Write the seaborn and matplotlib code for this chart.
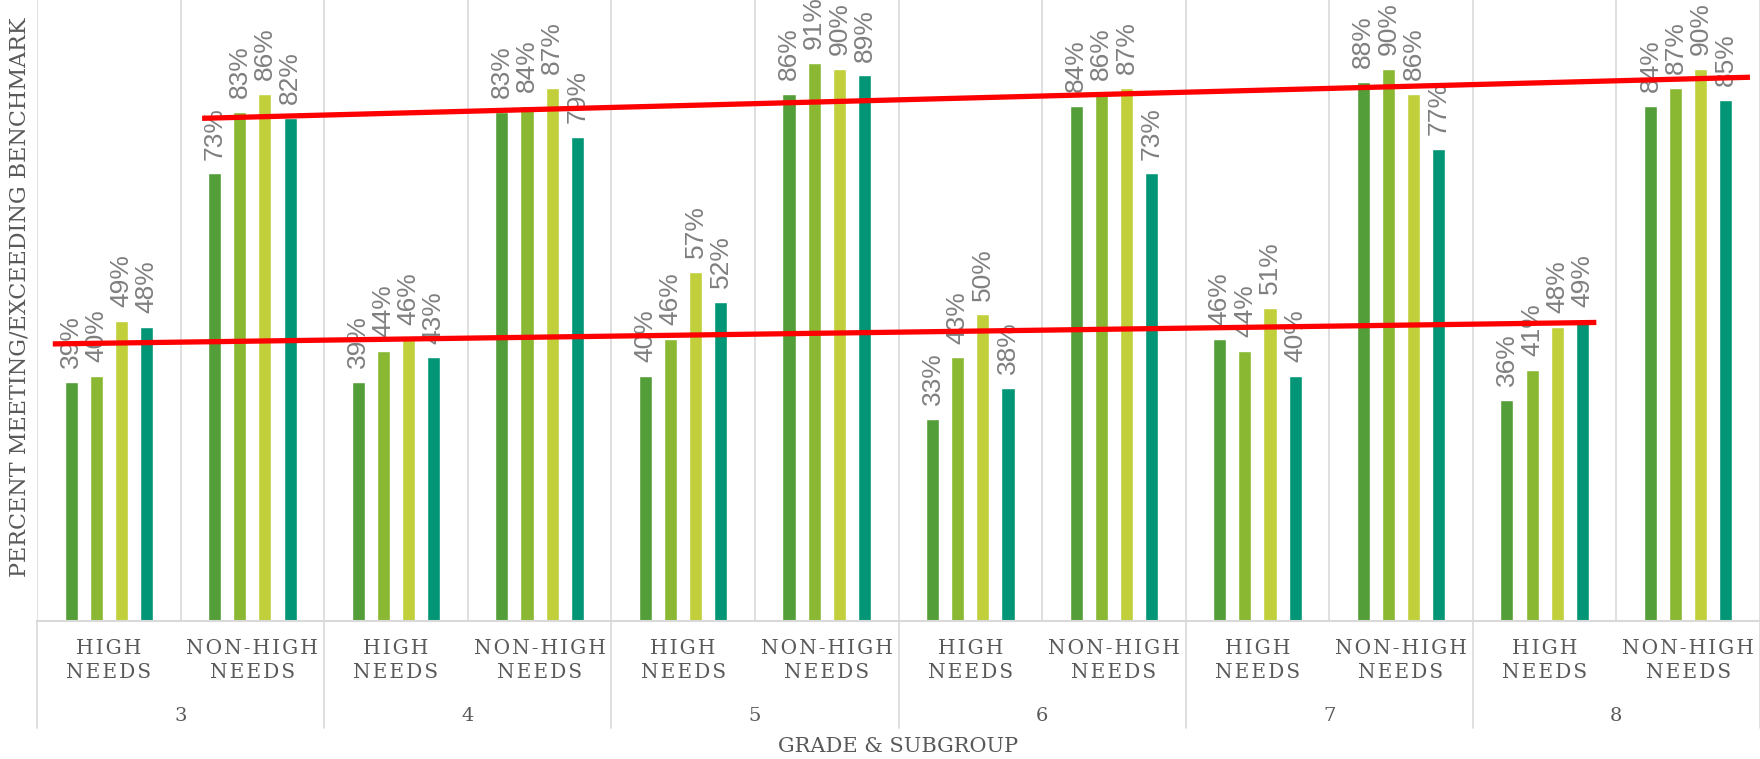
import numpy as np
import pandas as pd
import matplotlib
matplotlib.use("Agg")
import matplotlib.pyplot as plt
import matplotlib.transforms as mtransforms
import seaborn as sns

# Grades and subgroups on the x axis
grades = ["3", "4", "5", "6", "7", "8"]
subgroups = ["HIGH NEEDS", "NON-HIGH NEEDS"]
series_names = ["Series 1", "Series 2", "Series 3", "Series 4"]
colors = ["#549E39", "#8AB833", "#C0CF3A", "#029676"]

# percent meeting/exceeding, order: 3 HN, 3 NHN, 4 HN, 4 NHN, ...
s1 = [39, 73, 39, 83, 40, 86, 33, 84, 46, 88, 36, 84]
s2 = [40, 83, 44, 84, 46, 91, 43, 86, 44, 90, 41, 87]
s3 = [49, 86, 46, 87, 57, 90, 50, 87, 51, 86, 48, 90]
s4 = [48, 82, 43, 79, 52, 89, 38, 73, 40, 77, 49, 85]

# hand drawn red trend lines (slot position, percent)
low_line_x = [-0.39, 10.36]
low_line_y = [45.2, 48.7]
high_line_x = [0.65, 11.43]
high_line_y = [82.0, 88.7]

slots = [f"{g}|{sg}" for g in grades for sg in subgroups]
rows = []
for name, vals in zip(series_names, [s1, s2, s3, s4]):
    for slot, v in zip(slots, vals):
        rows.append({"slot": slot, "series": name, "value": v})
df = pd.DataFrame(rows)

sns.set_style("white")
plt.rcParams['font.family'] = ['DejaVu Serif', 'DejaVu Sans']

W, H = 1760, 759
fig = plt.figure(figsize=(W / 100, H / 100), dpi=100)
ax_left, ax_bottom_px, ax_right = 37, 621, 1760
ax = fig.add_axes([ax_left / W, 1 - ax_bottom_px / H, (ax_right - ax_left) / W, ax_bottom_px / H])

sns.barplot(data=df, x="slot", y="value", hue="series", order=slots,
            hue_order=series_names, palette=colors, saturation=1,
            width=0.7, gap=0.48, errorbar=None, legend=False, ax=ax, zorder=2)

for cont in ax.containers:
    ax.bar_label(cont, labels=[f"{b.get_height():.0f}%" for b in cont],
                 rotation=90, padding=10, color="#7f7f7f", fontsize=19,
                 family="Liberation Sans")

ax.set_xlim(-0.5, len(slots) - 0.5)
ax.set_ylim(0, 101.3)
ax.set_xticks([])
ax.set_yticks([])
ax.set_xlabel("")
ax.set_ylabel("")
for side in ["left", "top", "right"]:
    ax.spines[side].set_visible(False)
ax.spines["bottom"].set_color("#d9d9d9")
ax.spines["bottom"].set_linewidth(1.5)

trans = mtransforms.blended_transform_factory(ax.transData, ax.transAxes)

# vertical separators inside the plot
ax.vlines(np.arange(-0.5, len(slots), 1), 0, 1, transform=trans,
          color="#d9d9d9", lw=1.2, zorder=0.5)
# separators between grades below the axis
for x in np.arange(-0.5, len(slots), 2):
    ax.plot([x, x], [0, -(728 - 621) / 621], transform=trans, clip_on=False,
            color="#d9d9d9", lw=1.2)

# red trend lines
ax.plot(low_line_x, low_line_y, color="#ff0000", lw=3.8, zorder=4,
        solid_capstyle="butt")
ax.plot(high_line_x, high_line_y, color="#ff0000", lw=3.8, zorder=4,
        solid_capstyle="butt")


def spaced(word):
    # letter-spaced look of the original category labels
    return "\u200a".join(word)


# two-level category labels
txt_color = "#595959"
for i, slot in enumerate(slots):
    sg = slot.split("|")[1]
    first, second = sg.rsplit(" ", 1)
    ax.text(i, -(649 - 621) / 621, spaced(first), transform=trans, ha="center",
            va="center", fontsize=14.5, color=txt_color)
    ax.text(i, -(673 - 621) / 621, spaced(second), transform=trans, ha="center",
            va="center", fontsize=14.5, color=txt_color)
for k, g in enumerate(grades):
    ax.text(2 * k + 0.5, -(716 - 621) / 621, g, transform=trans, ha="center",
            va="center", fontsize=14, color=txt_color)

fig.text(898 / W, 1 - 747 / H, "GRADE & SUBGROUP", ha="center", va="center",
         fontsize=15, color=txt_color)
fig.text(20 / W, 1 - 297 / H, "PERCENT MEETING/EXCEEDING BENCHMARK",
         rotation=90, ha="center", va="center", fontsize=16, color=txt_color)

fig.savefig("out.png", dpi=100)
